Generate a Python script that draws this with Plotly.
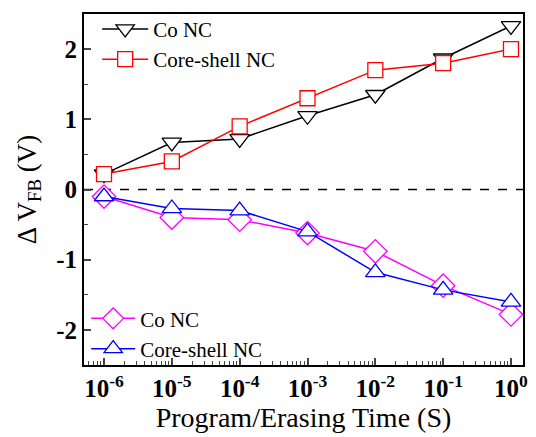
import plotly.graph_objects as go

times = [1e-6, 1e-5, 1e-4, 1e-3, 1e-2, 1e-1, 1e0]
prog_co = [0.22, 0.67, 0.72, 1.05, 1.35, 1.87, 2.33]
prog_cs = [0.22, 0.40, 0.90, 1.30, 1.70, 1.80, 2.00]
erase_co = [-0.10, -0.40, -0.43, -0.62, -0.88, -1.37, -1.78]
erase_cs = [-0.10, -0.27, -0.30, -0.60, -1.18, -1.43, -1.60]
xtick_vals = [1e-6, 1e-5, 1e-4, 1e-3, 1e-2, 1e-1, 1e0]
xtick_text = ["10<sup>-6</sup>", "10<sup>-5</sup>", "10<sup>-4</sup>", "10<sup>-3</sup>",
              "10<sup>-2</sup>", "10<sup>-1</sup>", "10<sup>0</sup>"]

font = "'Liberation Serif', 'Times New Roman', serif"
fig = go.Figure()
fig.add_trace(go.Scatter(x=times, y=prog_co, name="Co NC", mode="lines+markers",
                         line=dict(color="black", width=1.5),
                         marker=dict(symbol="triangle-down", size=17, color="white",
                                     line=dict(color="black", width=1.3)),
                         legend="legend"))
fig.add_trace(go.Scatter(x=times, y=prog_cs, name="Core-shell NC", mode="lines+markers",
                         line=dict(color="red", width=1.5),
                         marker=dict(symbol="square", size=15, color="white",
                                     line=dict(color="red", width=1.3)),
                         legend="legend"))
fig.add_trace(go.Scatter(x=times, y=erase_co, name="Co NC", mode="lines+markers",
                         line=dict(color="#ff00ff", width=1.5),
                         marker=dict(symbol="diamond", size=18, color="white",
                                     line=dict(color="#ff00ff", width=1.3)),
                         legend="legend2"))
fig.add_trace(go.Scatter(x=times, y=erase_cs, name="Core-shell NC", mode="lines+markers",
                         line=dict(color="blue", width=1.5),
                         marker=dict(symbol="triangle-up", size=17, color="white",
                                     line=dict(color="blue", width=1.3)),
                         legend="legend2"))

fig.add_shape(type="line", xref="paper", x0=0, x1=1, yref="y", y0=0, y1=0,
              line=dict(color="black", width=1.3, dash="dash"), layer="below")

minor_x = [m * 10.0 ** k for k in range(-7, 1) for m in range(2, 10)]

fig.update_layout(
    width=528, height=429,
    margin=dict(l=76, r=13, t=1, b=72),
    plot_bgcolor="white", paper_bgcolor="white",
    font=dict(family=font, color="black"),
    xaxis=dict(type="log", range=[-6.295, 0.177], tickvals=xtick_vals, ticktext=xtick_text,
               ticks="inside", ticklen=7, tickwidth=1.5, showgrid=False, zeroline=False,
               showline=True, linewidth=2, linecolor="black", mirror=True, automargin=False,
               tickfont=dict(size=25, family=font, weight="bold"),
               minor=dict(tickvals=minor_x, ticks="inside", ticklen=4, tickwidth=1.2, showgrid=False),
               title=dict(text="Program/Erasing Time (S)", font=dict(size=28, family=font), standoff=0)),
    yaxis=dict(range=[-2.5, 2.5], tickvals=[-2, -1, 0, 1, 2], ticktext=["-2", "-1", "0", "1", "2"],
               ticks="inside", ticklen=7, tickwidth=1.5, showgrid=False, zeroline=False,
               showline=True, linewidth=2, linecolor="black", mirror=True, automargin=False,
               tickfont=dict(size=25, family=font, weight="bold"),
               minor=dict(dtick=0.5, tick0=0.5, ticks="inside", ticklen=4, tickwidth=1.2, showgrid=False),
               title=dict(text="Δ V<sub>FB</sub> (V)", font=dict(size=27, family=font), standoff=12)),
    legend=dict(x=0.03, y=1.015, xanchor="left", yanchor="top", bgcolor="rgba(0,0,0,0)",
                font=dict(size=21, family=font), itemwidth=46, tracegroupgap=0),
    legend2=dict(x=0.005, y=-0.012, xanchor="left", yanchor="bottom", bgcolor="rgba(0,0,0,0)",
                 font=dict(size=21, family=font), itemwidth=44, tracegroupgap=0),
    showlegend=True,
)

fig.write_html("out.html")
